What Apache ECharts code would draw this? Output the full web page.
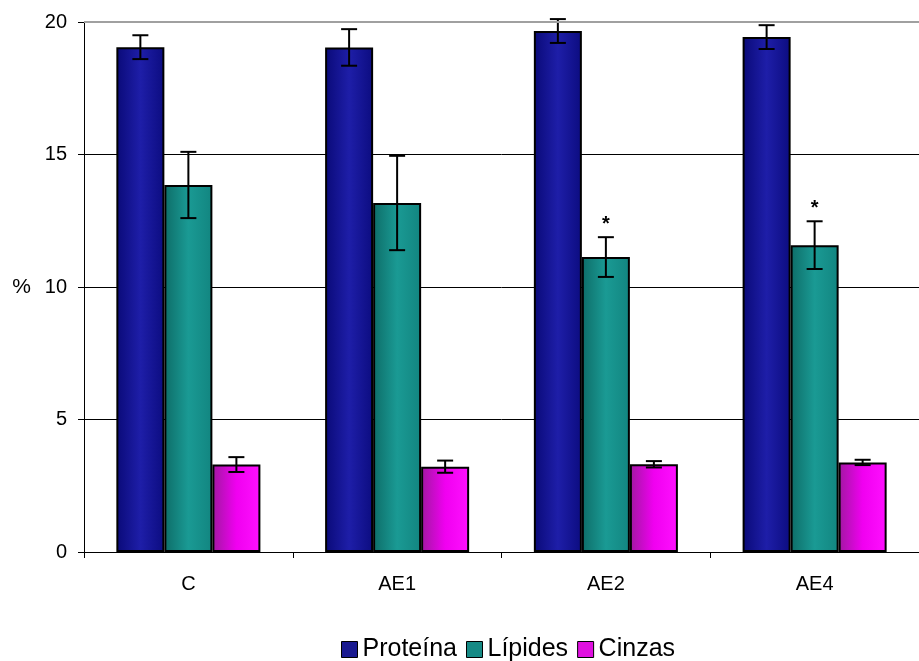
<!DOCTYPE html>
<html>
<head>
<meta charset="utf-8">
<script src="https://cdn.jsdelivr.net/npm/echarts@6/dist/echarts.min.js"></script>
<style>
html,body{margin:0;padding:0;background:#fff;}
#chart{width:919px;height:661px;}
</style>
</head>
<body>
<div id="chart"></div>
<script>
const categories = ['C', 'AE1', 'AE2', 'AE4'];
const seriesNames = ['Proteína', 'Lípides', 'Cinzas'];
const proteina = [19.05, 19.04, 19.66, 19.43];
const proteinaErr = [0.45, 0.69, 0.45, 0.45];
const lipides = [13.85, 13.17, 11.13, 11.58];
const lipidesErr = [1.25, 1.78, 0.75, 0.9];
const cinzas = [3.3, 3.22, 3.31, 3.38];
const cinzasErr = [0.28, 0.23, 0.12, 0.1];
const lipidesSig = ['', '', '*', '*'];
const yTicks = [0, 5, 10, 15, 20];

const values = [proteina, lipides, cinzas];
const errors = [proteinaErr, lipidesErr, cinzasErr];
const sigs = [null, lipidesSig, null];

const BAR_FRAC = 0.23;
const FONT = '"Liberation Sans", Arial, sans-serif';

function grad(c1, c2, c3) {
  return new echarts.graphic.LinearGradient(0, 0, 1, 0, [
    {offset: 0, color: c1}, {offset: 0.5, color: c2}, {offset: 1, color: c3}
  ]);
}
const fills = [
  grad('#0a0a78', '#1e1ea8', '#0c0c80'),
  grad('#0e6d68', '#1a9a94', '#128580'),
  grad('#a018a0', '#f000f0', '#ff10ff')
];
const legendFills = ['#1a1a90', '#168a85', '#e010e0'];

const barSeries = seriesNames.map((name, i) => ({
  name: name,
  type: 'bar',
  data: values[i],
  barWidth: (BAR_FRAC * 100) + '%',
  barGap: '0%',
  itemStyle: {color: fills[i], borderColor: '#000', borderWidth: 2},
  emphasis: {disabled: true}
}));
barSeries[0].markLine = {
  silent: true,
  symbol: 'none',
  z: 10,
  label: {show: false},
  lineStyle: {color: '#a0a0a0', width: 2, type: 'solid'},
  data: [{yAxis: yTicks[yTicks.length - 1]}]
};

const errSeries = seriesNames.map((name, i) => ({
  type: 'custom',
  name: name + '-err',
  z: 5,
  silent: true,
  data: values[i].map((v, j) => [j, v, errors[i][j], sigs[i] ? sigs[i][j] : '']),
  renderItem: function (params, api) {
    const idx = api.value(0);
    const v = api.value(1);
    const e = api.value(2);
    const band = api.size([1, 0])[0];
    const bw = band * BAR_FRAC;
    const c = api.coord([idx, v]);
    const x = c[0] + (i - 1) * bw;
    const top = api.coord([idx, v + e])[1];
    const bot = api.coord([idx, v - e])[1];
    const hw = 8;
    const st = {stroke: '#000', lineWidth: 2};
    const children = [
      {type: 'line', shape: {x1: x, y1: top, x2: x, y2: bot}, style: st},
      {type: 'line', shape: {x1: x - hw, y1: top, x2: x + hw, y2: top}, style: st},
      {type: 'line', shape: {x1: x - hw, y1: bot, x2: x + hw, y2: bot}, style: st}
    ];
    const s = sigs[i] ? sigs[i][idx] : '';
    if (s) {
      children.push({type: 'text', style: {x: x, y: top - 3, text: s, fill: '#000',
        font: 'bold 20px ' + FONT, align: 'center', verticalAlign: 'bottom'}});
    }
    return {type: 'group', children: children};
  }
}));

const chart = echarts.init(document.getElementById('chart'), null, {renderer: 'canvas'});
chart.setOption({
  animation: false,
  backgroundColor: '#fff',
  textStyle: {fontFamily: FONT},
  grid: {left: 84, right: 0, top: 22, bottom: 109, containLabel: false},
  legend: {
    bottom: -6,
    left: 336,
    itemWidth: 16,
    itemHeight: 16,
    itemGap: 9,
    icon: 'rect',
    textStyle: {fontSize: 25, color: '#000', fontFamily: FONT, padding: [0, 0, 0, 0]},
    data: seriesNames.map((n, i) => ({name: n, itemStyle: {color: legendFills[i], borderColor: '#000', borderWidth: 1}}))
  },
  xAxis: {
    type: 'category',
    data: categories,
    axisLine: {lineStyle: {color: '#000', width: 1}},
    axisTick: {show: true, alignWithLabel: false, length: 6, lineStyle: {color: '#000'}},
    axisLabel: {fontSize: 20, color: '#000', margin: 22}
  },
  yAxis: {
    type: 'value',
    min: yTicks[0],
    max: yTicks[yTicks.length - 1],
    interval: 5,
    name: '%',
    nameLocation: 'middle',
    nameRotate: 0,
    nameGap: 53,
    nameTextStyle: {fontSize: 21, color: '#000'},
    axisLine: {show: true, lineStyle: {color: '#000', width: 1}},
    axisTick: {show: true, inside: false, length: 6, lineStyle: {color: '#000'}},
    axisLabel: {fontSize: 20, color: '#000', margin: 17},
    splitLine: {show: true, lineStyle: {color: ['#000', '#000', '#000', '#000', '#a0a0a0'], width: 1}}
  },
  series: barSeries.concat(errSeries)
});
</script>
</body>
</html>
